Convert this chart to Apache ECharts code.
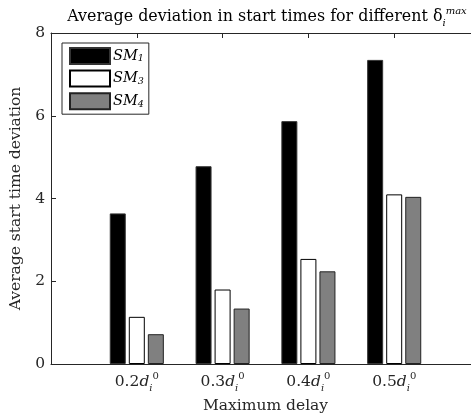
<!DOCTYPE html>
<html><head><meta charset="utf-8">
<script src="https://cdn.jsdelivr.net/npm/echarts@6/dist/echarts.min.js"></script>
<style>html,body{margin:0;padding:0;background:#fff}#c{width:471px;height:418px}</style>
</head><body><div id="c"></div>
<script>
const categories = ['', '0.2', '0.3', '0.4', '0.5', ''];
const sm1 = [null, 3.64, 4.78, 5.87, 7.35, null];
const sm3 = [null, 1.14, 1.80, 2.54, 4.10, null];
const sm4 = [null, 0.72, 1.34, 2.24, 4.04, null];
const seriesNames = ['SM1', 'SM3', 'SM4'];
const yTicks = [0, 2, 4, 6, 8];

const FONT = 'DejaVu Serif';
const FS = 15.5;
const AX = '#262626';
const chart = echarts.init(document.getElementById('c'), null, {renderer: 'canvas'});
const catRich = {
  n: {fontFamily: FONT, fontSize: FS, color: AX},
  d: {fontFamily: FONT, fontSize: FS, fontStyle: 'italic', color: AX},
  sub: {fontFamily: FONT, fontSize: 10, fontStyle: 'italic', color: AX, verticalAlign: 'bottom', lineHeight: 22},
  sup: {fontFamily: FONT, fontSize: 10, color: AX, verticalAlign: 'top', lineHeight: 22}
};
chart.setOption({
  animation: false,
  title: {
    text: 'Average deviation in start times for different δ{sub|i}{sup|max}',
    left: 262, top: 1, textAlign: 'center',
    textStyle: {fontFamily: FONT, fontSize: 15.9, fontWeight: 'normal', color: '#000',
      rich: {
        sub: {fontFamily: FONT, fontSize: 10, fontStyle: 'italic', color: '#000', verticalAlign: 'bottom', lineHeight: 22},
        sup: {fontFamily: FONT, fontSize: 10, fontStyle: 'italic', color: '#000', verticalAlign: 'top', lineHeight: 22}
      }}
  },
  legend: {
    left: 62, top: 43, orient: 'vertical', icon: 'rect',
    itemWidth: 40, itemHeight: 16, itemGap: 4.6,
    padding: [4, 5, 4, 7],
    borderColor: AX, borderWidth: 1, backgroundColor: '#fff',
    data: seriesNames,
    formatter: n => n.slice(0, 2) + '{sub|' + n.slice(2) + '}',
    textStyle: {fontFamily: FONT, fontSize: 14.5, fontStyle: 'italic', color: '#000', lineHeight: 16, padding: [0, 0, 0, -2],
      rich: {sub: {fontFamily: FONT, fontSize: 9.5, color: '#000', verticalAlign: 'bottom', lineHeight: 16}}}
  },
  grid: {left: 51, top: 33, width: 429, height: 331, containLabel: false, outerBoundsMode: 'none'},
  xAxis: [{
    type: 'category', data: categories, boundaryGap: false, position: 'bottom',
    axisLine: {lineStyle: {color: AX, width: 1}},
    axisTick: {inside: true, length: 5, lineStyle: {color: AX}},
    axisLabel: {margin: 7, color: AX, interval: 0,
      formatter: v => v === '' ? '' : '{n|' + v + '}{d|d}{sub|i}{sup|0}', rich: catRich},
    name: 'Maximum delay', nameLocation: 'middle', nameGap: 31,
    nameTextStyle: {fontFamily: FONT, fontSize: FS, color: AX}
  }, {
    type: 'category', data: categories, boundaryGap: false, position: 'top',
    axisLine: {lineStyle: {color: AX, width: 1}},
    axisTick: {inside: true, length: 5, lineStyle: {color: AX}, interval: 0},
    axisLabel: {show: false}
  }],
  yAxis: {
    type: 'value', min: 0, max: 8, interval: 2,
    axisLine: {show: true, lineStyle: {color: AX, width: 1}},
    axisTick: {show: true, inside: true, length: 5, lineStyle: {color: AX}},
    splitLine: {show: false},
    axisLabel: {fontFamily: FONT, fontSize: FS, color: AX, margin: 6,
      formatter: v => yTicks.includes(v) ? String(v) : ''},
    name: 'Average start time deviation', nameLocation: 'middle', nameGap: 19,
    nameTextStyle: {fontFamily: FONT, fontSize: FS, color: AX}
  },
  series: [
    {name: seriesNames[0], type: 'bar', data: sm1, barWidth: 16, barGap: '19%',
      itemStyle: {color: '#000', borderColor: '#333', borderWidth: 1}},
    {name: seriesNames[1], type: 'bar', data: sm3, barWidth: 16, barGap: '19%',
      itemStyle: {color: '#fff', borderColor: '#000', borderWidth: 1}},
    {name: seriesNames[2], type: 'bar', data: sm4, barWidth: 16, barGap: '19%',
      itemStyle: {color: '#808080', borderColor: '#222', borderWidth: 1}}
  ]
});
</script></body></html>
